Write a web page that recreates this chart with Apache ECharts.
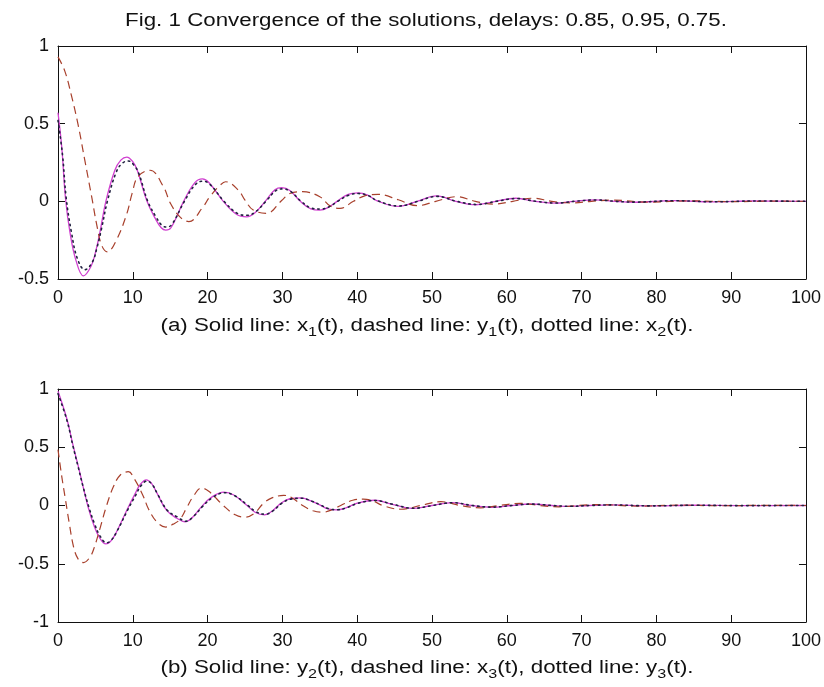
<!DOCTYPE html>
<html><head><meta charset="utf-8">
<script src="https://cdn.jsdelivr.net/npm/echarts@6/dist/echarts.min.js"></script>
<style>html,body{margin:0;padding:0;background:#fff}#c{width:824px;height:687px}</style>
</head><body><div id="c"></div>
<script>
// ---- text ----
const titleText = 'Fig. 1 Convergence of the solutions, delays: 0.85, 0.95, 0.75.';
const captionA = '(a) Solid line: x{s|1}(t), dashed line: y{s|1}(t), dotted line: x{s|2}(t).';
const captionB = '(b) Solid line: y{s|2}(t), dashed line: x{s|3}(t), dotted line: y{s|3}(t).';

// ---- axes ----
const xRange = [0, 100], xStep = 10;
const topYRange = [-0.5, 1], botYRange = [-1, 1], yStep = 0.5;

// ---- (a) solid: x1(t) ----
const tX1 = [0,0.5,1.0,1.6,2.4,3.4,4.4,5.0,5.6,6.4,7.6,8.4,9.2,10.0,10.6,11.9,13.0,13.8,14.4,15.1,16.8,18.3,19.3,20.2,22.1,23.9,25.2,26.3,27.7,29.0,29.9,31.0,32.4,33.8,35.0,36.1,37.3,38.8,40.1,41.4,42.6,45.5,48.0,50.6,53.2,55.9,58.5,61.2,63.8,66.5,69.0,71.8,74.5,77.0,82.3,87.5,93.0,100];
const vX1 = [0.57,0.35,0.02,-0.2,-0.38,-0.48,-0.42,-0.33,-0.2,0.0,0.2,0.265,0.285,0.255,0.2,0.0,-0.11,-0.17,-0.185,-0.17,0.0,0.12,0.144,0.12,0.0,-0.085,-0.1,-0.075,0.0,0.075,0.088,0.07,0.0,-0.048,-0.056,-0.04,0.0,0.045,0.055,0.04,0.005,-0.033,0.0,0.035,0.0,-0.022,0.0,0.02,0.0,-0.012,0.0,0.01,0.0,-0.006,0.004,-0.003,0.002,0.0];
// ---- (a) dashed: y1(t) ----
const tY1 = [0,0.9,1.8,2.7,3.6,4.5,5.3,5.9,6.6,7.8,9.2,9.9,10.7,12.3,14.1,15.0,16.3,17.5,19.4,20.3,21.7,22.4,24.1,25.0,26.1,27.9,29.9,31.0,32.7,35.0,36.4,37.7,39.5,41.0,42.8,45.5,48.0,50.5,53.3,55.8,58.3,60.8,63.5,66.0,68.7,71.3,74.0,79.0,84.5,90.0,95.0,100];
const vY1 = [0.93,0.84,0.68,0.49,0.26,0.03,-0.18,-0.29,-0.325,-0.25,-0.08,0.05,0.16,0.2,0.094,-0.01,-0.1,-0.13,-0.035,0.03,0.105,0.126,0.073,0.008,-0.056,-0.077,0.005,0.05,0.062,0.03,-0.03,-0.045,0.0,0.035,0.045,0.01,-0.028,0.0,0.03,0.0,-0.018,0.0,0.02,0.0,-0.01,0.0,0.008,-0.005,0.003,-0.002,0.001,0.0];
// ---- (a) dotted: x2(t) ----
const tX2 = [0,0.6,1.1,1.8,2.6,3.6,4.6,5.2,5.8,6.6,7.8,8.6,9.4,10.2,10.8,12.0,13.1,13.9,14.5,15.2,16.9,18.4,19.4,20.3,22.2,24.0,25.3,26.4,27.8,29.1,30.0,31.1,32.5,33.9,35.1,36.2,37.4,38.9,40.2,41.5,42.7,45.6,48.1,50.7,53.3,56.0,58.6,61.3,63.9,66.6,69.1,71.9,74.6,77.1,82.4,87.6,93.1,100];
const vX2 = [0.52,0.3,0.02,-0.2,-0.37,-0.44,-0.39,-0.3,-0.18,0.0,0.19,0.245,0.26,0.23,0.18,0.0,-0.1,-0.155,-0.165,-0.15,0.0,0.11,0.13,0.11,0.0,-0.078,-0.09,-0.068,0.0,0.068,0.08,0.064,0.0,-0.044,-0.05,-0.036,0.0,0.04,0.05,0.036,0.004,-0.03,0.0,0.032,0.0,-0.02,0.0,0.018,0.0,-0.011,0.0,0.009,0.0,-0.005,0.004,-0.003,0.002,0.0];

// ---- (b) solid: y2(t) ----
const tY2 = [0,1.2,2.0,2.7,3.4,4.1,4.8,5.5,6.4,7.0,7.8,9.2,10.3,11.0,11.8,12.5,13.2,14.5,15.9,17.0,18.0,19.2,20.5,22.2,23.5,25.2,26.4,27.6,28.6,29.8,31.0,32.5,33.8,35.0,36.1,37.3,38.5,40.0,42.3,44.7,47.4,50.0,52.7,55.3,58.0,60.6,63.2,66.0,68.5,71.0,74.0,79.0,85.0,91.0,100];
const vY2 = [0.98,0.74,0.52,0.34,0.15,-0.03,-0.17,-0.27,-0.33,-0.31,-0.23,-0.04,0.1,0.18,0.22,0.19,0.11,-0.04,-0.11,-0.14,-0.1,-0.01,0.07,0.115,0.09,0.005,-0.06,-0.08,-0.05,0.02,0.058,0.065,0.04,0.005,-0.03,-0.038,-0.02,0.02,0.045,0.01,-0.025,0.0,0.025,0.0,-0.015,0.0,0.013,0.0,-0.008,0.0,0.005,-0.003,0.002,-0.001,0.0];
// ---- (b) dashed: x3(t) ----
const tX3 = [0,0.5,1.0,1.5,2.1,2.7,3.4,4.3,4.9,5.6,6.5,7.4,8.3,9.4,10.2,11.4,12.1,13.2,14.4,15.4,16.3,17.2,18.1,19.2,20.2,22.1,23.7,25.0,26.2,27.5,28.6,30.2,31.3,32.7,34.1,35.4,36.5,37.8,39.4,40.8,42.1,43.4,45.8,48.5,51.2,53.8,56.5,59.0,61.8,64.4,67.0,69.6,72.3,77.5,83.0,88.5,94.0,100];
const vX3 = [0.48,0.25,0.05,-0.15,-0.36,-0.46,-0.49,-0.44,-0.35,-0.2,0.0,0.16,0.26,0.29,0.23,0.08,-0.03,-0.14,-0.185,-0.16,-0.12,-0.02,0.08,0.15,0.12,0.0,-0.08,-0.1,-0.07,0.02,0.065,0.087,0.065,0.0,-0.045,-0.058,-0.04,0.0,0.045,0.055,0.04,0.0,-0.032,0.0,0.033,0.0,-0.02,0.0,0.018,0.0,-0.011,0.0,0.008,-0.005,0.003,-0.002,0.001,0.0];
// ---- (b) dotted: y3(t) ----
const tY3 = [0,1.2,2.0,2.7,3.4,4.2,4.9,5.6,6.5,7.1,7.9,9.3,10.4,11.1,11.9,12.6,13.3,14.6,16.0,17.1,18.1,19.3,20.6,22.3,23.6,25.3,26.5,27.7,28.7,29.9,31.1,32.6,33.9,35.1,36.2,37.4,38.6,40.1,42.4,44.8,47.5,50.1,52.8,55.4,58.1,60.7,63.3,66.1,68.6,71.1,74.1,79.1,85.1,91.1,100];
const vY3 = [0.96,0.73,0.51,0.33,0.15,-0.03,-0.16,-0.26,-0.32,-0.3,-0.22,-0.04,0.09,0.17,0.21,0.18,0.1,-0.04,-0.1,-0.135,-0.095,-0.01,0.065,0.11,0.085,0.005,-0.055,-0.075,-0.048,0.018,0.055,0.062,0.038,0.004,-0.028,-0.036,-0.019,0.019,0.043,0.01,-0.024,0.0,0.024,0.0,-0.014,0.0,0.012,0.0,-0.007,0.0,0.005,-0.003,0.002,-0.001,0.0];

const pairs = (t, v) => t.map((x, i) => [x, v[i]]);

const FONT = '"Liberation Sans", Arial, sans-serif';
const black = '#111';
const colSolid = '#d040d0', colDash = '#a8402c', colDot = '#202040';

function xAx(grid, pos, labels) {
  return { type: 'value', gridIndex: grid, position: pos, min: xRange[0], max: xRange[1], interval: xStep,
    axisLine: { show: true, onZero: false, lineStyle: { color: black, width: 1 } },
    axisTick: { show: true, inside: true, length: 7, lineStyle: { color: black } },
    axisLabel: { show: labels, color: black, fontSize: 18, fontFamily: FONT, margin: 10 },
    splitLine: { show: false } };
}
function yAx(grid, pos, labels, range) {
  return { type: 'value', gridIndex: grid, position: pos, min: range[0], max: range[1], interval: yStep,
    axisLine: { show: true, onZero: false, lineStyle: { color: black, width: 1 } },
    axisTick: { show: true, inside: true, length: 7, lineStyle: { color: black } },
    axisLabel: { show: labels, color: black, fontSize: 18, fontFamily: FONT, margin: 9 },
    splitLine: { show: false } };
}
function ser(t, v, xi, yi, kind) {
  const ls = kind === 'solid' ? { color: colSolid, width: 1.3, type: 'solid' }
    : kind === 'dash' ? { color: colDash, width: 1.2, type: [8, 5] }
    : { color: colDot, width: 1.6, type: [1.5, 4], cap: 'round' };
  return { type: 'line', data: pairs(t, v), xAxisIndex: xi, yAxisIndex: yi, showSymbol: false,
    smooth: 0.4, lineStyle: ls, silent: true, animation: false, z: kind === 'dot' ? 4 : (kind === 'dash' ? 3 : 2) };
}
const richSub = { s: { fontSize: 13, fontFamily: FONT, fill: black, padding: [12, 0, 0, 0] } };
const stretch = 1.24;

const chart = echarts.init(document.getElementById('c'), null, { renderer: 'canvas' });
chart.setOption({
  backgroundColor: '#fff',
  animation: false,
  grid: [
    { left: 58, top: 46, width: 748, height: 233 },
    { left: 58, top: 389, width: 748, height: 233 }
  ],
  xAxis: [xAx(0, 'bottom', true), xAx(0, 'top', false), xAx(1, 'bottom', true), xAx(1, 'top', false)],
  yAxis: [yAx(0, 'left', true, topYRange), yAx(0, 'right', false, topYRange), yAx(1, 'left', true, botYRange), yAx(1, 'right', false, botYRange)],
  graphic: [
    { type: 'text', x: 426, y: 21, scaleX: stretch, style: { text: titleText, fontSize: 18, fontFamily: FONT, fill: black, textAlign: 'center', textVerticalAlign: 'middle' } },
    { type: 'text', x: 427, y: 326, scaleX: stretch, style: { text: captionA, fontSize: 18, fontFamily: FONT, fill: black, textAlign: 'center', textVerticalAlign: 'middle', rich: richSub } },
    { type: 'text', x: 427, y: 668, scaleX: stretch, style: { text: captionB, fontSize: 18, fontFamily: FONT, fill: black, textAlign: 'center', textVerticalAlign: 'middle', rich: richSub } }
  ],
  series: [
    ser(tX1, vX1, 0, 0, 'solid'), ser(tY1, vY1, 0, 0, 'dash'), ser(tX2, vX2, 0, 0, 'dot'),
    ser(tY2, vY2, 2, 2, 'solid'), ser(tX3, vX3, 2, 2, 'dash'), ser(tY3, vY3, 2, 2, 'dot')
  ]
});
</script></body></html>
